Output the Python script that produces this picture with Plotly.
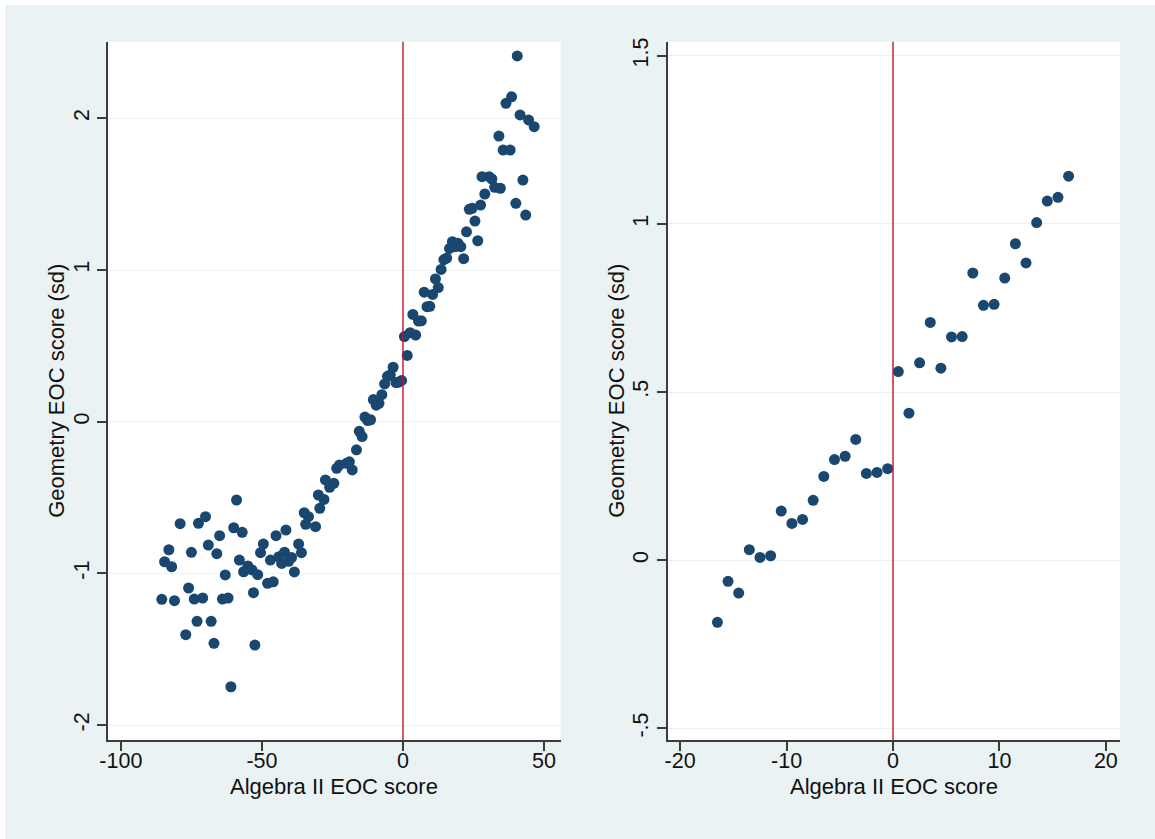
import plotly.graph_objects as go

# ---------------- data ----------------
# right panel (narrow bandwidth), x = Algebra II EOC score bins
right_x = [-16.5, -15.5, -14.5, -13.5, -12.5, -11.5, -10.5, -9.5, -8.5, -7.5, -6.5, -5.5,
           -4.5, -3.5, -2.5, -1.5, -0.5, 0.5, 1.5, 2.5, 3.5, 4.5, 5.5, 6.5, 7.5, 8.5, 9.5,
           10.5, 11.5, 12.5, 13.5, 14.5, 15.5, 16.5]
right_y = [-0.185, -0.063, -0.098, 0.031, 0.008, 0.013, 0.146, 0.109, 0.121, 0.178, 0.249,
           0.299, 0.309, 0.359, 0.258, 0.261, 0.272, 0.561, 0.437, 0.587, 0.707, 0.571,
           0.664, 0.665, 0.854, 0.758, 0.761, 0.839, 0.941, 0.884, 1.004, 1.068, 1.079, 1.142]

# left panel (full range)
low_x = [-85.5, -84.5, -83.0, -82.0, -81.0, -79.0, -77.0, -76.0, -75.0, -74.0, -73.0, -72.5,
         -71.0, -70.0, -69.0, -68.0, -67.0, -66.0, -65.0, -64.0, -63.0, -62.0, -61.0, -60.0,
         -59.0, -58.0, -57.0, -56.5, -55.0, -53.5, -53.0, -52.5, -51.5]
low_y = [-1.171, -0.923, -0.844, -0.956, -1.180, -0.672, -1.404, -1.096, -0.861, -1.169,
         -1.316, -0.670, -1.162, -0.626, -0.813, -1.316, -1.461, -0.870, -0.751, -1.169,
         -1.010, -1.162, -1.747, -0.699, -0.516, -0.912, -0.729, -0.989, -0.951, -0.977,
         -1.127, -1.472, -1.008]
mid_x = [-50.5, -49.5, -48.0, -47.0, -46.0, -45.0, -44.0, -43.0, -42.0, -41.5, -40.5, -39.5,
         -38.5, -37.0, -36.0, -35.0, -34.5, -33.5, -31.0, -30.0, -29.5, -28.0, -27.5, -26.0,
         -24.5, -23.5, -22.5, -20.0, -19.0, -18.0]
mid_y = [-0.863, -0.806, -1.065, -0.912, -1.055, -0.751, -0.890, -0.934, -0.860, -0.714,
         -0.920, -0.895, -0.990, -0.806, -0.863, -0.600, -0.676, -0.626, -0.692, -0.483,
         -0.571, -0.512, -0.384, -0.432, -0.406, -0.307, -0.285, -0.274, -0.264, -0.318]
high_x = [17.5, 18.5, 19.5, 20.5, 21.5, 22.5, 23.5, 24.5, 25.5, 26.5, 27.5, 28.0, 29.0, 30.5,
          31.5, 32.5, 34.0, 34.5, 35.5, 36.5, 38.0, 38.5, 40.0, 40.5, 41.5, 42.5, 43.5, 44.5,
          46.5]
high_y = [1.187, 1.154, 1.176, 1.154, 1.075, 1.252, 1.400, 1.407, 1.323, 1.193, 1.428, 1.615,
          1.501, 1.615, 1.600, 1.545, 1.883, 1.539, 1.791, 2.099, 1.791, 2.142, 1.440, 2.411,
          2.022, 1.593, 1.362, 1.989, 1.945]

left_x = low_x + mid_x + right_x + high_x
left_y = low_y + mid_y + right_y + high_y

left_xticks = [-100, -50, 0, 50]
left_xticktext = ["-100", "-50", "0", "50"]
left_yticks = [-2, -1, 0, 1, 2]
left_yticktext = ["-2", "-1", "0", "1", "2"]
right_xticks = [-20, -10, 0, 10, 20]
right_xticktext = ["-20", "-10", "0", "10", "20"]
right_yticks = [-0.5, 0, 0.5, 1, 1.5]
right_yticktext = ["-.5", "0", ".5", "1", "1.5"]

x_title = "Algebra II EOC score"
y_title = "Geometry EOC score (sd)"

# ---------------- style ----------------
W, H = 1155, 839
BG = "#EAF2F3"
NAVY = "#1a476f"
RED = "#c4102b"
AX = "#3c3c3c"
FONT = "Liberation Sans, Arial, sans-serif"

def px_x(p):
    return p / W

def px_y(p):
    return 1 - p / H

L_DOM = [px_x(107.9), px_x(560.7)]
R_DOM = [px_x(667.7), px_x(1120.0)]
Y_DOM = [px_y(740.0), px_y(41.7)]

fig = go.Figure()
marker = dict(color=NAVY, size=11, line=dict(width=0))
fig.add_trace(go.Scatter(x=left_x, y=left_y, mode="markers", marker=marker,
                         xaxis="x", yaxis="y", showlegend=False, hoverinfo="x+y"))
fig.add_trace(go.Scatter(x=right_x, y=right_y, mode="markers", marker=marker,
                         xaxis="x2", yaxis="y2", showlegend=False, hoverinfo="x+y"))

common_x = dict(showline=True, linecolor=AX, linewidth=1.5, ticks="outside", ticklen=9,
                tickwidth=1.5, tickcolor=AX, showgrid=False, zeroline=False,
                tickfont=dict(family=FONT, size=21.5, color="#111"), mirror=False,
                ticklabelstandoff=-9, automargin=False)
common_y = dict(showline=True, linecolor=AX, linewidth=1.5, ticks="outside", ticklen=9,
                tickwidth=1.5, tickcolor=AX, showgrid=True, gridcolor=BG, gridwidth=1,
                zeroline=False, tickangle=-90, automargin=False,
                tickfont=dict(family=FONT, size=21.5, color="#111"), mirror=False)

fig.update_layout(
    width=W, height=H,
    margin=dict(l=0, r=0, t=0, b=0, pad=0, autoexpand=False),
    paper_bgcolor=BG, plot_bgcolor="white",
    xaxis=dict(domain=L_DOM, anchor="y", range=[-104.6, 55.9], tickmode="array",
               tickvals=left_xticks, ticktext=left_xticktext, **common_x),
    yaxis=dict(domain=Y_DOM, anchor="x", range=[-2.098, 2.505], tickmode="array",
               tickvals=left_yticks, ticktext=left_yticktext, **common_y),
    xaxis2=dict(domain=R_DOM, anchor="y2", range=[-21.17, 21.33], tickmode="array",
                tickvals=right_xticks, ticktext=right_xticktext, **common_x),
    yaxis2=dict(domain=Y_DOM, anchor="x2", range=[-0.535, 1.542], tickmode="array",
                tickvals=right_yticks, ticktext=right_yticktext, **common_y),
    font=dict(family=FONT, color="#111"),
)

# vertical cutoff lines at 0
fig.add_shape(type="line", xref="x", yref="y domain", x0=0, x1=0, y0=0, y1=1,
              line=dict(color=RED, width=1.4))
fig.add_shape(type="line", xref="x2", yref="y2 domain", x0=0, x1=0, y0=0, y1=1,
              line=dict(color=RED, width=1.4))

# white strips at top and left edge of the image
fig.add_shape(type="rect", xref="paper", yref="paper", x0=0, x1=px_x(5), y0=0, y1=1,
              fillcolor="white", line=dict(width=0), layer="above")
fig.add_shape(type="rect", xref="paper", yref="paper", x0=0, x1=1, y0=px_y(5), y1=1,
              fillcolor="white", line=dict(width=0), layer="above")

# axis titles
for xc in [(L_DOM[0] + L_DOM[1]) / 2, (R_DOM[0] + R_DOM[1]) / 2]:
    fig.add_annotation(text=x_title, xref="paper", yref="paper", x=xc, y=px_y(786),
                       showarrow=False, xanchor="center", yanchor="middle",
                       font=dict(family=FONT, size=22, color="#111"))
for xp in [57, 617]:
    fig.add_annotation(text=y_title, xref="paper", yref="paper", x=px_x(xp),
                       y=(Y_DOM[0] + Y_DOM[1]) / 2, showarrow=False, textangle=-90,
                       xanchor="center", yanchor="middle",
                       font=dict(family=FONT, size=22, color="#111"))

fig.write_html("out.html", config={"displayModeBar": False},
               post_script="document.body.style.margin='0';document.body.style.overflow='hidden';")
